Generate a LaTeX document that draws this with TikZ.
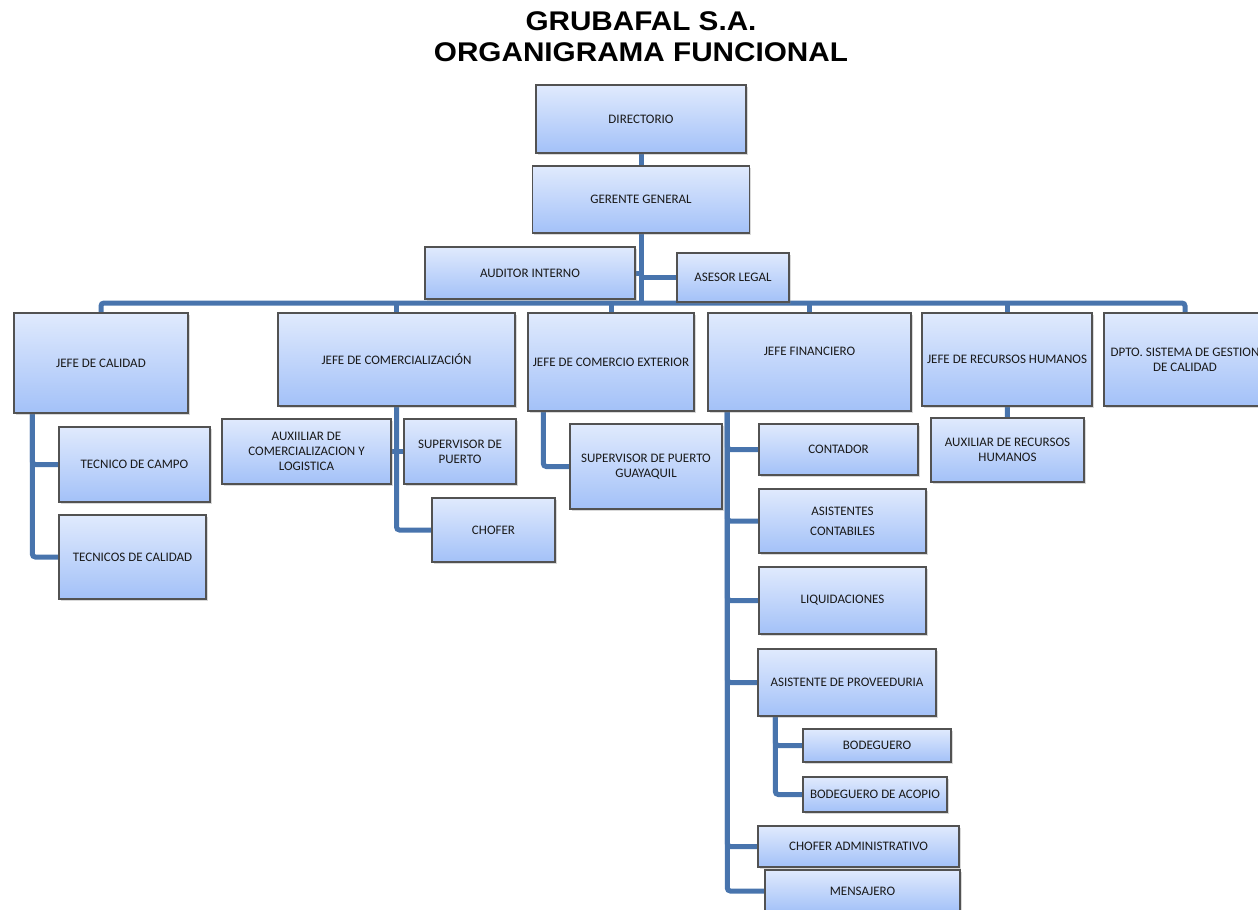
\documentclass[tikz,border=0pt]{standalone}
\usepackage{fontspec}
\setmainfont{Carlito}
\newfontfamily\titlefont[FakeStretch=1.1]{Liberation Sans}
\usetikzlibrary{shadows, backgrounds}

\definecolor{linkblue}{RGB}{72,116,173}
\definecolor{boxtop}{RGB}{224,234,253}
\definecolor{boxbottom}{RGB}{163,193,248}
\definecolor{boxline}{RGB}{82,82,82}

\begin{document}
\begin{tikzpicture}[
  x=1pt, y=-1pt,
  every node/.style={font=\fontsize{13}{15}\selectfont, text=black!90},
  % Styles
  unit/.style={rectangle, draw=boxline, line width=1.4pt, top color=boxtop, bottom color=boxbottom, align=center, inner sep=1pt, drop shadow={shadow xshift=1.5pt, shadow yshift=-2pt, opacity=0.3}},
  link/.style={draw=linkblue, line width=5pt, rounded corners=3pt},
  heading/.style={font=\titlefont\bfseries\fontsize{27}{31.5}\selectfont, align=center, text=black},
]
  \useasboundingbox (0,0) rectangle (1258,910);

  % ── TITLE ────────────────────────────────────────────────
  \node[heading] (ttl) at (641,36.5) {GRUBAFAL S.A.\\ORGANIGRAMA FUNCIONAL};

  % ── DIRECCION ────────────────────────────────────────────
  \node[unit, minimum width=210pt, minimum height=68pt] (dir) at (641,119) {DIRECTORIO};
  \node[unit, minimum width=217pt, minimum height=67pt] (ger) at (641,199.5) {GERENTE GENERAL};
  \node[unit, minimum width=210pt, minimum height=52pt] (aud) at (530,273) {AUDITOR INTERNO};
  \node[unit, minimum width=112pt, minimum height=49pt] (ase) at (733,277.5) {ASESOR LEGAL};
  \coordinate (bus) at (641,303);

  % ── JEFATURAS ────────────────────────────────────────────
  \node[unit, minimum width=174pt, minimum height=100pt] (jcal) at (101,363) {JEFE DE CALIDAD};
  \node[unit, minimum width=237pt, minimum height=93pt] (jcom) at (396.5,359.5) {JEFE DE COMERCIALIZACIÓN};
  \node[unit, minimum width=166pt, minimum height=98pt] (jcex) at (611,362) {JEFE DE COMERCIO EXTERIOR};
  \node[unit, minimum width=203pt, minimum height=98pt, text depth=22pt] (jfin) at (809.5,362) {JEFE FINANCIERO};
  \node[unit, minimum width=170pt, minimum height=93pt] (jrh) at (1007,359.5) {JEFE DE RECURSOS HUMANOS};
  \node[unit, minimum width=162pt, minimum height=93pt] (dpto) at (1185,359.5) {DPTO. SISTEMA DE GESTION\\DE CALIDAD};

  % ── CALIDAD ──────────────────────────────────────────────
  \node[unit, minimum width=151pt, minimum height=75pt] (tcam) at (134.5,464.5) {TECNICO DE CAMPO};
  \node[unit, minimum width=147pt, minimum height=84pt] (tcal) at (132.5,557) {TECNICOS DE CALIDAD};

  % ── COMERCIALIZACION / COMERCIO EXTERIOR ─────────────────
  \node[unit, minimum width=169pt, minimum height=65pt] (aux) at (306.5,451.5) {AUXIILIAR DE\\COMERCIALIZACION Y\\LOGISTICA};
  \node[unit, minimum width=112pt, minimum height=65pt] (sup) at (460,451.5) {SUPERVISOR DE\\PUERTO};
  \node[unit, minimum width=123pt, minimum height=64pt] (chof) at (493.5,530) {CHOFER};
  \node[unit, minimum width=152pt, minimum height=85pt] (sgye) at (646,466.5) {SUPERVISOR DE PUERTO\\GUAYAQUIL};

  % ── FINANCIERO ───────────────────────────────────────────
  \node[unit, minimum width=159pt, minimum height=51pt] (cont) at (838.5,449.5) {CONTADOR};
  \node[unit, minimum width=167pt, minimum height=64pt] (asc) at (842.5,521) {ASISTENTES\\[5pt]CONTABILES};
  \node[unit, minimum width=167pt, minimum height=67pt] (liq) at (842.5,600.5) {LIQUIDACIONES};
  \node[unit, minimum width=178pt, minimum height=67pt] (prov) at (847,682.5) {ASISTENTE DE PROVEEDURIA};
  \node[unit, minimum width=148pt, minimum height=33pt] (bod) at (877,745.5) {BODEGUERO};
  \node[unit, minimum width=144pt, minimum height=35pt] (bac) at (875,794.5) {BODEGUERO DE ACOPIO};
  \node[unit, minimum width=201pt, minimum height=41pt] (chad) at (858.5,846.5) {CHOFER ADMINISTRATIVO};
  \node[unit, minimum width=195pt, minimum height=42pt] (mens) at (862.5,891) {MENSAJERO};

  % ── RECURSOS HUMANOS ─────────────────────────────────────
  \node[unit, minimum width=153pt, minimum height=64pt] (arh) at (1007.5,450) {AUXILIAR DE RECURSOS\\HUMANOS};

  % ── CONNECTORS ───────────────────────────────────────────
  \begin{scope}[on background layer]
    \draw[link] (dir) -- (ger);
    \draw[link] (ger) -- (bus);
    \draw[link] (aud.east) -- (aud.east -| bus);
    \draw[link] (ase.west) -- (ase.west -| bus);

    % bus
    \draw[link] (jcal.north) |- (bus) -| (dpto.north);
    \foreach \n in {jcom, jcex, jfin, jrh}
      \draw[link] (\n.north) -- (\n.north |- bus);

    % branches
    \foreach \n in {tcam, tcal}
      \draw[link] ([xshift=19pt]jcal.south west) |- (\n.west);
    \draw[link] (jcom.south) |- (chof.west);
    \draw[link] (aux.east) -- (sup.west);
    \draw[link] ([xshift=16pt]jcex.south west) |- (sgye.west);
    \foreach \n in {cont, asc, liq, prov, chad, mens}
      \draw[link] ([xshift=20pt]jfin.south west) |- (\n.west);
    \foreach \n in {bod, bac}
      \draw[link] ([xshift=18pt]prov.south west) |- (\n.west);
    \draw[link] (jrh) -- (arh);
  \end{scope}

\end{tikzpicture}
\end{document}
